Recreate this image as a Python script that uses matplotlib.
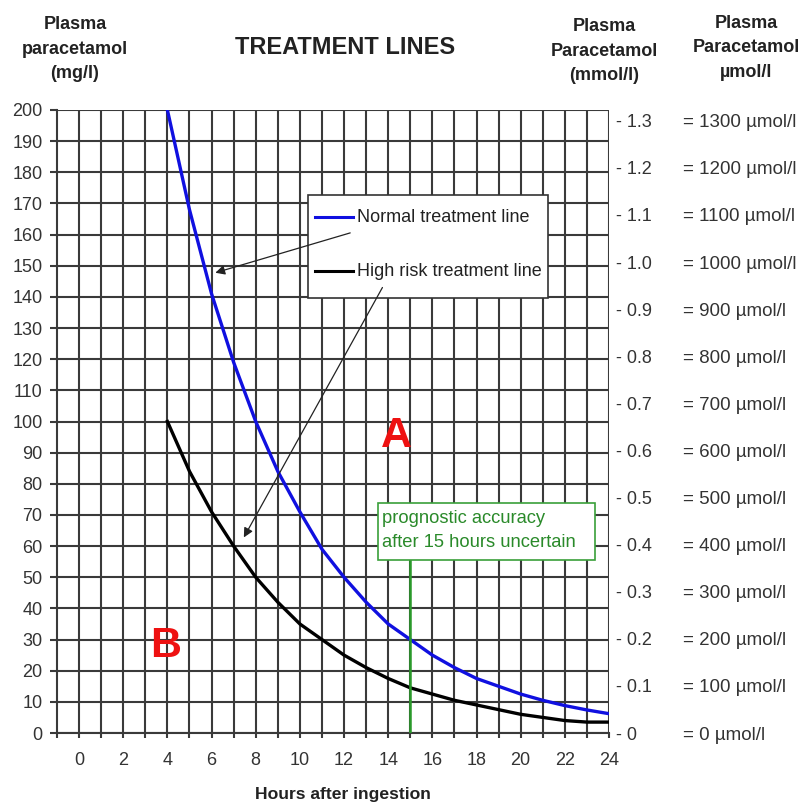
import matplotlib
matplotlib.use("Agg")
import matplotlib.pyplot as plt
from matplotlib.patches import Rectangle

plt.rcParams['font.family'] = ['Liberation Sans', 'DejaVu Sans']

hours = [4, 5, 6, 7, 8, 9, 10, 11, 12, 13, 14, 15, 16, 17, 18, 19, 20, 21, 22, 23, 24]
normal_line = [200, 168, 141, 119, 100, 84, 71, 59, 50, 42, 35, 30, 25, 21, 17.5, 15, 12.5, 10.5, 8.8, 7.4, 6.2]
high_risk_line = [100, 84, 71, 60, 50, 42, 35, 30, 25, 21, 17.5, 14.5, 12.5, 10.5, 9, 7.5, 6, 5, 4, 3.5, 3.5]

x_ticks = [0, 2, 4, 6, 8, 10, 12, 14, 16, 18, 20, 22, 24]
y_ticks = list(range(0, 201, 10))
mmol_ticks = [0, 0.1, 0.2, 0.3, 0.4, 0.5, 0.6, 0.7, 0.8, 0.9, 1.0, 1.1, 1.2, 1.3]
mmol_labels = ["- 0", "- 0.1", "- 0.2", "- 0.3", "- 0.4", "- 0.5", "- 0.6", "- 0.7",
               "- 0.8", "- 0.9", "- 1.0", "- 1.1", "- 1.2", "- 1.3"]
umol_labels = ["= 0 µmol/l", "= 100 µmol/l", "= 200 µmol/l", "= 300 µmol/l", "= 400 µmol/l",
               "= 500 µmol/l", "= 600 µmol/l", "= 700 µmol/l", "= 800 µmol/l", "= 900 µmol/l",
               "= 1000 µmol/l", "= 1100 µmol/l", "= 1200 µmol/l", "= 1300 µmol/l"]
MW = 151.2  # mg per mmol

fig = plt.figure(figsize=(8.03, 8.06), dpi=100)
ax = fig.add_axes([57/803, 1-733/806, 552/803, 623/806])
ax.set_xlim(-1, 24)
ax.set_ylim(0, 200)

gcol = '#3a3a3a'
tcol = '#333333'
for h in range(0, 25):
    ax.axvline(h, color=gcol, lw=1.5, zorder=1)
for v in y_ticks:
    ax.axhline(v, color=gcol, lw=1.5, zorder=1)
for s in ax.spines.values():
    s.set_color(gcol)
    s.set_linewidth(1.5)
ax.spines['top'].set_visible(False)
ax.spines['right'].set_visible(False)

ax.set_xticks(range(-1, 25), minor=True)
ax.set_xticks(x_ticks)
ax.set_xticklabels([str(t) for t in x_ticks])
ax.set_yticks(y_ticks)
ax.tick_params(axis='x', which='both', length=3.5, width=1.5, color=gcol, labelsize=13, pad=10, labelcolor=tcol)
ax.tick_params(axis='y', length=5, width=1.5, color=gcol, labelsize=13, pad=5.5, labelcolor=tcol)

ax.plot(hours, normal_line, color='#1010e0', lw=2.4, zorder=3)
ax.plot(hours, high_risk_line, color='black', lw=2.4, zorder=3)

# right axes
sec = ax.secondary_yaxis(1.0, functions=(lambda y: y / MW, lambda m: m * MW))
sec.set_yticks(mmol_ticks)
sec.set_yticklabels(mmol_labels)
sec.tick_params(length=0, pad=5, labelsize=13, labelcolor=tcol)
sec.spines['right'].set_visible(False)

sec2 = ax.secondary_yaxis(1.134, functions=(lambda y: y / MW, lambda m: m * MW))
sec2.set_yticks(mmol_ticks)
sec2.set_yticklabels(umol_labels)
sec2.tick_params(length=0, pad=0, labelsize=13.5, labelcolor=tcol)
sec2.spines['right'].set_visible(False)

# legend box
ax.add_patch(Rectangle((10.37, 139.6), 10.87, 33.1, facecolor='white', edgecolor='#333333', lw=1.2, zorder=4))
ax.plot([10.7, 12.42], [165.5, 165.5], color='#1010e0', lw=2.2, zorder=5)
ax.plot([10.7, 12.42], [148.3, 148.3], color='black', lw=2.2, zorder=5)
ax.text(12.6, 165.5, "Normal treatment line", fontsize=13, va='center', ha='left', color='#222222', zorder=5)
ax.text(12.6, 148.3, "High risk treatment line", fontsize=13, va='center', ha='left', color='#222222', zorder=5)

# arrows
ax.annotate("", xy=(6.05, 147.5), xytext=(12.4, 160.8),
            arrowprops=dict(arrowstyle='-|>', color='#222222', lw=0.9, mutation_scale=14), zorder=6)
ax.annotate("", xy=(7.4, 62.0), xytext=(13.8, 143.8),
            arrowprops=dict(arrowstyle='-|>', color='#222222', lw=0.9, mutation_scale=14), zorder=6)

# green marker
ax.plot([15, 15], [0, 55.5], color='#2a9a2a', lw=1.8, zorder=4)
ax.add_patch(Rectangle((13.54, 55.5), 9.83, 18.3, facecolor='white', edgecolor='#3aa03a', lw=1.2, zorder=4))
ax.text(13.7, 65.0, "prognostic accuracy\nafter 15 hours uncertain", fontsize=13.2, color='#2a8a2a',
        va='center', ha='left', linespacing=1.55, zorder=5)

# letters
ax.text(14.35, 95.5, "A", color='#ee1111', fontsize=31, fontweight='bold', ha='center', va='center', zorder=5)
ax.text(3.9, 28, "B", color='#ee1111', fontsize=31, fontweight='bold', ha='center', va='center', zorder=5)

# headers
hdr = dict(ha='center', va='center', fontsize=13, fontweight='bold', color='#222222', linespacing=1.55)
fig.text(75/803, 1-49/806, "Plasma\nparacetamol\n(mg/l)", **hdr)
fig.text(345/803, 1-47/806, "TREATMENT LINES", ha='center', va='center', fontsize=17,
         fontweight='bold', color='#222222')
fig.text(604/803, 1-51/806, "Plasma\nParacetamol\n(mmol/l)", **hdr)
fig.text(746/803, 1-48/806, "Plasma\nParacetamol\nµmol/l", **hdr)
fig.text(343/803, 1-795/806, "Hours after ingestion", ha='center', va='center', fontsize=12.6,
         fontweight='bold', color='#222222')

fig.savefig("out.png", dpi=100, facecolor='white')
